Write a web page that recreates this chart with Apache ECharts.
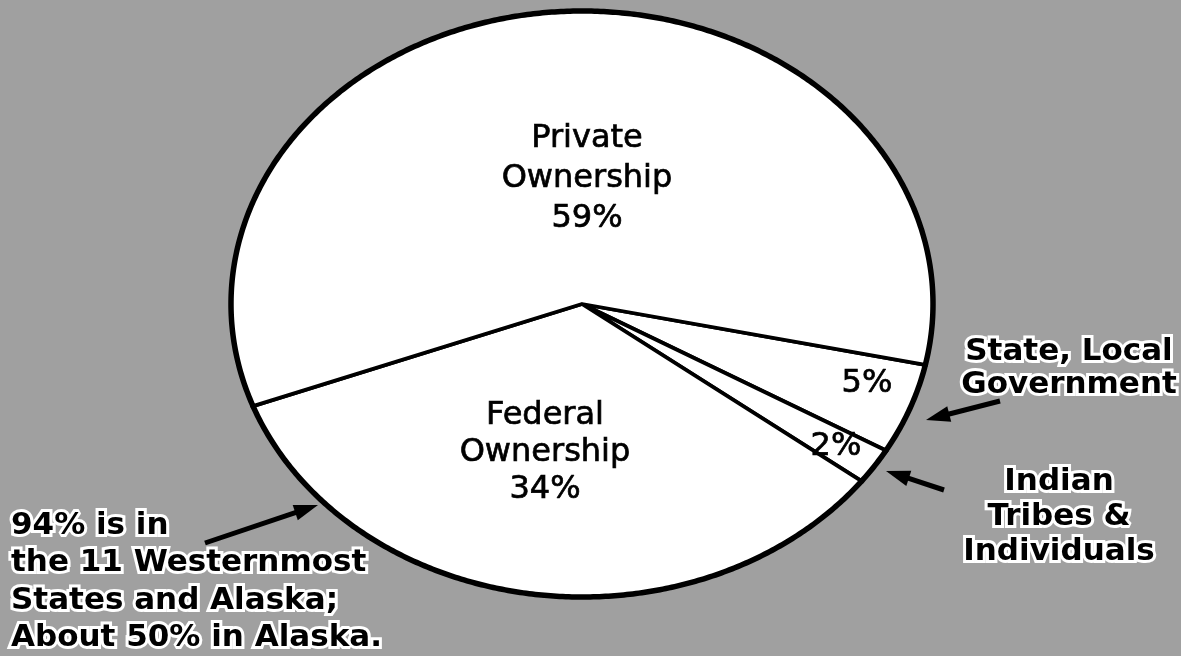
<!DOCTYPE html>
<html><head><meta charset="utf-8">
<script src="https://cdn.jsdelivr.net/npm/echarts@6/dist/echarts.min.js"></script>
<style>html,body{margin:0;padding:0;background:#a0a0a0}#c{width:1181px;height:656px}</style>
</head><body><div id="c"></div>
<script>
// ---- data ----
const categories = ['State, Local Government', 'Indian Tribes & Individuals', 'Federal Ownership', 'Private Ownership'];
const shares = [5, 2, 34, 59];
const insideNames = ['', '', 'Federal\nOwnership', 'Private\nOwnership'];
const outsideLabels = ['State, Local\nGovernment', 'Indian\nTribes &\nIndividuals'];
const noteLines = ['94% is in', 'the 11 Westernmost', 'States and Alaska;', 'About 50% in Alaska.'];
const startAngle = -12;

const total = shares.reduce((a, b) => a + b, 0);

function renderItem(params, api) {
  const i = params.dataIndex;
  let before = 0;
  for (let k = 0; k < i; k++) before += shares[k];
  const v = api.value(0);
  const a0 = (startAngle - before / total * 360) * Math.PI / 180;
  const a1 = (startAngle - (before + v) / total * 360) * Math.PI / 180;
  const n = Math.max(6, Math.ceil(Math.abs(a1 - a0) / (Math.PI / 360)));
  const arc = [];
  for (let s = 0; s <= n; s++) {
    const t = a0 + (a1 - a0) * s / n;
    arc.push(api.coord([Math.cos(t), Math.sin(t)]));
  }
  const c = api.coord([0, 0]);
  return {
    type: 'group',
    children: [
      { type: 'polygon', shape: { points: [c].concat(arc) },
        style: { fill: '#ffffff', stroke: '#000000', lineWidth: 3.8, lineJoin: 'round' } },
      { type: 'polyline', z2: 10, shape: { points: arc },
        style: { fill: null, stroke: '#000000', lineWidth: 5.5, lineCap: 'round' } }
    ]
  };
}

function arrow(x1, y1, x2, y2) {
  const dx = x2 - x1, dy = y2 - y1, L = Math.hypot(dx, dy);
  const ux = dx / L, uy = dy / L, px = -uy, py = ux;
  const hl = 24, hw = 8;
  const bx = x2 - ux * hl, by = y2 - uy * hl;
  return [
    { type: 'line', shape: { x1: x1, y1: y1, x2: bx + ux * 4, y2: by + uy * 4 },
      style: { stroke: '#000', lineWidth: 5 }, z: 20 },
    { type: 'polygon', shape: { points: [[x2, y2], [bx + px * hw, by + py * hw], [bx - px * hw, by - py * hw]] },
      style: { fill: '#000' }, z: 20 }
  ];
}

const innerFont = '32px "DejaVu Sans"';
const outerFont = 'bold 31px "DejaVu Sans"';
function txt(text, x, y, font, lh, align, halo) {
  const st = { text: text, x: x, y: y, font: font, fill: '#000', align: align, verticalAlign: 'middle', lineHeight: lh };
  if (halo) { st.stroke = '#ffffff'; st.lineWidth = 6; }
  else { st.stroke = '#000000'; st.lineWidth = 0.7; }
  return { type: 'text', style: st, z: 30 };
}

const graphics = [
  txt(insideNames[3] + '\n' + shares[3] + '%', 587, 179, innerFont, 40, 'center', false),
  txt(insideNames[2] + '\n' + shares[2] + '%', 545, 453, innerFont, 37, 'center', false),
  txt(shares[0] + '%', 867, 384, innerFont, 36, 'center', false),
  txt(shares[1] + '%', 836, 447, innerFont, 36, 'center', false),
  txt(outsideLabels[0], 1069, 368, outerFont, 33, 'center', true),
  txt(outsideLabels[1], 1059, 517, outerFont, 35, 'center', true),
  txt(noteLines.join('\n'), 11, 582, outerFont, 37.5, 'left', true)
].concat(arrow(1000, 401, 926, 420), arrow(944, 490, 886, 471), arrow(205, 543, 318, 505));

const chart = echarts.init(document.getElementById('c'), null, { renderer: 'canvas' });
chart.setOption({
  backgroundColor: '#a0a0a0',
  animation: false,
  grid: { left: 231, top: 11, width: 702, height: 586 },
  xAxis: { type: 'value', min: -1, max: 1, show: false },
  yAxis: { type: 'value', min: -1, max: 1, show: false },
  series: [{
    type: 'custom',
    name: 'Land ownership',
    renderItem: renderItem,
    data: shares.map((v, i) => ({ name: categories[i], value: [v, i] })),
    encode: { x: -1, y: -1 },
    silent: true
  }],
  graphic: graphics
});
</script></body></html>
